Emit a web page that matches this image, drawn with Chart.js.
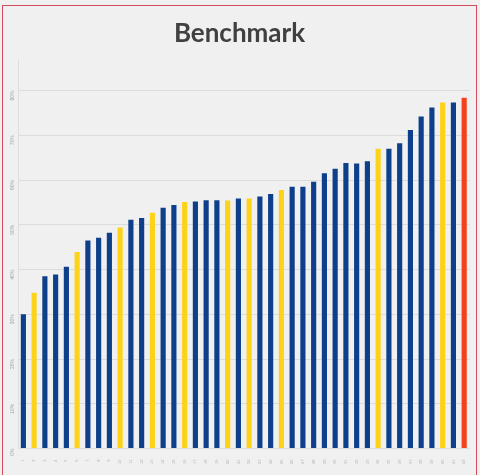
<!DOCTYPE html>
<html>
<head>
<meta charset="utf-8">
<script src="https://cdn.jsdelivr.net/npm/chart.js@4"></script>
<style>
  html, body { margin: 0; padding: 0; background: #f0f0f0; }
  .frame { position: absolute; left: 2px; top: 5px; width: 475px; height: 480px; border: 1.5px solid #d24a5e; box-sizing: border-box; }
  .wrap { position: absolute; left: 0; top: 0; width: 480px; height: 475px; }
</style>
</head>
<body>
<div class="frame"></div>
<div class="wrap"><canvas id="benchChart" width="480" height="475"></canvas></div>
<script>
// categories (axis labels are too small to read in the original)
const labels = ['1','2','3','4','5','6','7','8','9','10','11','12','13','14','15','16','17','18','19','20','21',
                '22','23','24','25','26','27','28','29','30','31','32','33','34','35','36','37','38','39','40','41','42'];

const values = [30.0, 34.8, 38.5, 38.9, 40.6, 43.9, 46.5, 47.1, 48.2, 49.4, 51.1, 51.5, 52.7, 53.8,
                54.4, 55.1, 55.2, 55.5, 55.5, 55.4, 55.9, 55.9, 56.3, 56.9, 57.8, 58.5, 58.5, 59.6,
                61.5, 62.5, 63.8, 63.7, 64.2, 67.0, 67.0, 68.2, 71.2, 74.2, 76.2, 77.3, 77.3, 78.4];

// 0 = blue, 1 = yellow, 2 = red
const groups = [0,1,0,0,0,1,0,0,0,1,0,0,1,0,0,1,0,0,0,1,0,1,0,0,1,0,0,0,0,0,0,0,0,1,0,0,0,0,0,1,0,2];

const yTicks = [0, 10, 20, 30, 40, 50, 60, 70, 80];

const palette = ['#0d3f8a', '#fdd319', '#f4421c'];

const ctx = document.getElementById('benchChart').getContext('2d');
new Chart(ctx, {
    type: 'bar',
    data: {
        labels: labels,
        datasets: [{
            data: values,
            backgroundColor: groups.map(g => palette[g]),
            categoryPercentage: 1,
            barPercentage: 0.48
        }]
    },
    options: {
        responsive: false,
        animation: false,
        devicePixelRatio: 1,
        layout: { padding: { left: 2, right: 3, top: 10, bottom: 0 } },
        plugins: {
            legend: { display: false },
            tooltip: { enabled: false },
            title: {
                display: true,
                text: 'Benchmark',
                color: '#404040',
                font: { family: 'Lato', size: 26, weight: 'bold' },
                padding: { top: 8, bottom: 10 }
            }
        },
        scales: {
            x: {
                grid: {
                    offset: true,
                    color: c => (c.index === 0 || c.index === labels.length) ? '#dedede' : 'rgba(0,0,0,0)',
                    drawTicks: false
                },
                border: { display: false },
                ticks: {
                    color: '#b0b0b0',
                    font: { size: 4 },
                    minRotation: 90,
                    maxRotation: 90,
                    padding: 11
                }
            },
            y: {
                min: 0,
                max: 87,
                afterBuildTicks: axis => { axis.ticks = yTicks.map(v => ({ value: v })); },
                grid: { color: '#dcdcdc', drawTicks: false },
                border: { display: true, color: '#dedede' },
                ticks: {
                    color: '#a0a0a0',
                    font: { size: 5 },
                    minRotation: 90,
                    maxRotation: 90,
                    padding: 5,
                    callback: v => v + '%'
                }
            }
        }
    }
});
</script>
</body>
</html>
